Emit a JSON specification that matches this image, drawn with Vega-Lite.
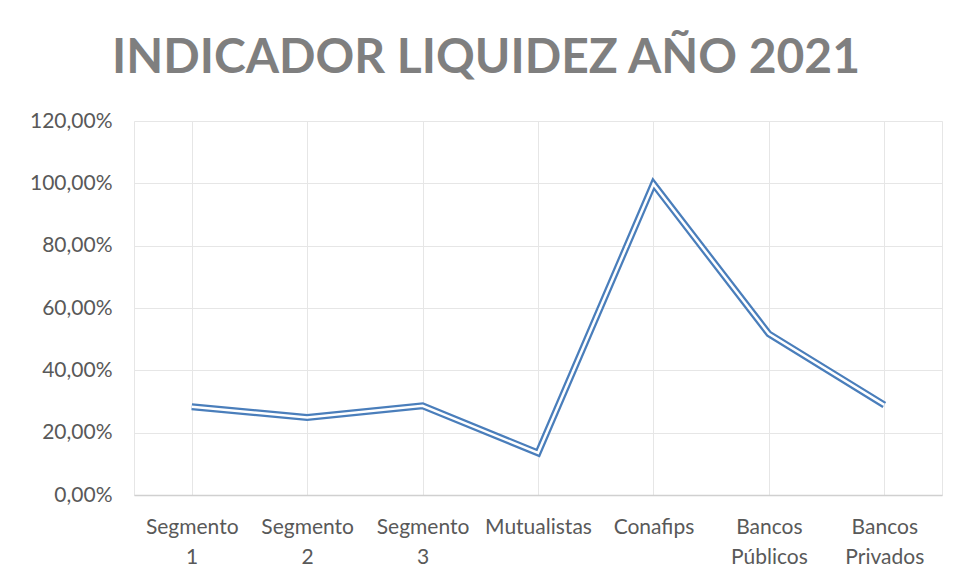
{
  "$schema": "https://vega.github.io/schema/vega-lite/v6.json",
  "width": 808,
  "height": 374,
  "autosize": {"type": "none"},
  "padding": {"left": 134, "top": 121, "right": 18, "bottom": 87},
  "background": "white",
  "title": {
    "text": "INDICADOR LIQUIDEZ AÑO 2021",
    "font": "Lato",
    "fontSize": 48,
    "fontWeight": "bold",
    "color": "#7f7f7f",
    "anchor": "middle",
    "frame": "group",
    "dx": -52,
    "dy": 65,
    "offset": 44,
    "baseline": "bottom"
  },
  "data": {
    "values": [
      {"categoria": "Segmento 1", "liquidez": 0.283},
      {"categoria": "Segmento 2", "liquidez": 0.249},
      {"categoria": "Segmento 3", "liquidez": 0.286},
      {"categoria": "Mutualistas", "liquidez": 0.135},
      {"categoria": "Conafips", "liquidez": 0.998},
      {"categoria": "Bancos Públicos", "liquidez": 0.517},
      {"categoria": "Bancos Privados", "liquidez": 0.289}
    ]
  },
  "config": {
    "view": {"stroke": "#e6e6e6", "strokeWidth": 1},
    "axis": {
      "labelFont": "Lato",
      "labelFontSize": 21,
      "labelColor": "#595959",
      "titleFont": "Lato"
    }
  },
  "encoding": {
    "x": {
      "field": "categoria",
      "type": "nominal",
      "sort": null,
      "scale": {"paddingInner": 0, "paddingOuter": 0},
      "axis": {
        "title": null,
        "labelAngle": 0,
        "ticks": false,
        "grid": true,
        "gridColor": "#e6e6e6",
        "gridWidth": 1,
        "bandPosition": 0,
        "domainColor": "#d0d0d0",
        "domainWidth": 1.5,
        "labelPadding": 21,
        "labelLineHeight": 30,
        "labelBaseline": "top",
        "labelExpr": "split(datum.label, ' ')"
      }
    },
    "y": {
      "field": "liquidez",
      "type": "quantitative",
      "scale": {"domain": [0, 1.2], "nice": false},
      "axis": {
        "title": null,
        "values": [0, 0.2, 0.4, 0.6, 0.8, 1.0, 1.2],
        "ticks": false,
        "domain": false,
        "grid": true,
        "gridColor": "#e6e6e6",
        "gridWidth": 1,
        "labelPadding": 22,
        "labelExpr": "replace(format(datum.value, '.2%'), '.', ',')"
      }
    }
  },
  "layer": [
    {"mark": {"type": "line", "color": "#4a7ebb", "strokeWidth": 7, "strokeJoin": "miter"}},
    {"mark": {"type": "line", "color": "white", "strokeWidth": 2.5, "strokeJoin": "miter"}}
  ]
}
